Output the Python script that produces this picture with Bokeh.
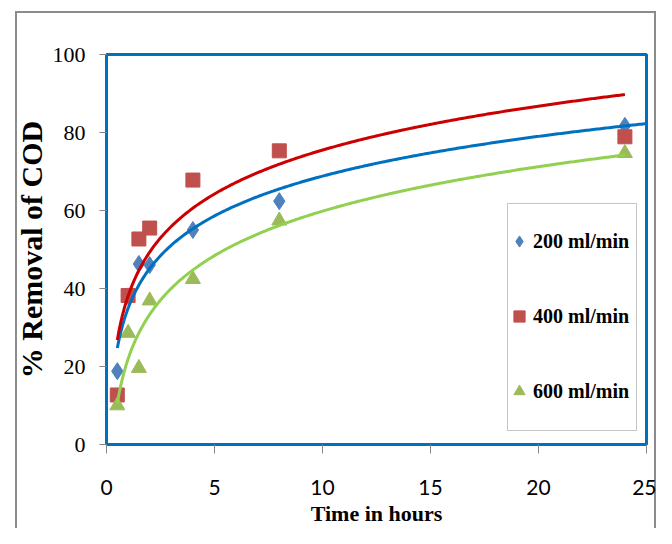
import numpy as np
from bokeh.plotting import figure
from bokeh.models import BoxAnnotation, Legend, LegendItem, Range1d, FixedTicker
from bokeh.embed import file_html
from bokeh.resources import INLINE

# ---- data ----
time_h = [0.5, 1, 1.5, 2, 4, 8, 24]
cod_200 = [18.8, 38.0, 46.3, 46.0, 55.0, 62.4, 81.7]
cod_400 = [12.7, 38.2, 52.7, 55.5, 67.8, 75.3, 78.9]
cod_600 = [10.0, 28.6, 19.6, 36.9, 42.4, 57.4, 74.7]
series_labels = ["200 ml/min", "400 ml/min", "600 ml/min"]
trend_end = [25, 24, 24]
x_ticks = [0, 5, 10, 15, 20, 25]
y_ticks = [0, 20, 40, 60, 80, 100]

marker_colors = ["#4F81BD", "#C0504D", "#9BBB59"]
line_colors = ["#0070C0", "#CC0000", "#92D050"]
markers = ["diamond", "square", "triangle"]
marker_sizes = [17, 14, 15]

p = figure(width=656, height=528, output_backend="svg", toolbar_location=None,
           x_range=Range1d(0, 25), y_range=Range1d(0, 100),
           min_border_left=106, min_border_right=10, min_border_top=54,
           min_border_bottom=83)
p.outline_line_color = "#0070C0"
p.outline_line_width = 3
p.xgrid.visible = False
p.ygrid.visible = False
p.background_fill_color = "white"
p.border_fill_color = None
g = "linear-gradient(#8c8c8c,#8c8c8c)"
p.styles = {"background": (f"{g} 15px 11px / 2px 600px no-repeat, "
                           f"{g} 15px 11px / 641px 2px no-repeat, "
                           f"{g} 654px 11px / 2px 600px no-repeat, #ffffff")}

for ax in (p.xaxis[0], p.yaxis[0]):
    ax.axis_line_color = None
    ax.major_tick_line_color = "#868686"
    ax.major_tick_line_width = 1
    ax.minor_tick_line_color = None
    ax.major_tick_in = 0
    ax.major_label_text_color = "black"
    ax.axis_label_text_color = "black"
    ax.axis_label_text_font = "Liberation Serif"
    ax.axis_label_text_font_style = "bold"

p.xaxis.ticker = FixedTicker(ticks=x_ticks)
p.xaxis.major_tick_out = 9
p.xaxis.major_label_text_font = "Lato"
p.xaxis.major_label_text_font_size = "21px"
p.xaxis.major_label_standoff = 26
p.xaxis.axis_label = "Time in hours"
p.xaxis.axis_label_text_font_size = "22px"
p.xaxis.axis_label_standoff = 3

p.yaxis.ticker = FixedTicker(ticks=y_ticks)
p.yaxis.major_tick_out = 7
p.yaxis.major_label_text_font = "Liberation Serif"
p.yaxis.major_label_text_font_size = "22px"
p.yaxis.major_label_standoff = 14
p.yaxis.axis_label = "% Removal of COD"
p.yaxis.axis_label_text_font_size = "30px"
p.yaxis.axis_label_standoff = 2

# legend box
p.add_layout(BoxAnnotation(left=507, right=636, top=203, bottom=430,
                           left_units="canvas", right_units="canvas",
                           top_units="canvas", bottom_units="canvas",
                           fill_color="white", fill_alpha=1,
                           line_color="#404040", line_width=1))

series = [cod_200, cod_400, cod_600]
items = []
t = np.array(time_h, dtype=float)
for vals, lab, mk, mc, ms in zip(series, series_labels, markers, marker_colors, marker_sizes):
    r = p.scatter(time_h, vals, marker=mk, size=ms, fill_color=mc, line_color=mc)
    items.append(LegendItem(label=lab, renderers=[r]))

for vals, lc, te in zip(series, line_colors, trend_end):
    a, b = np.polyfit(np.log(t), np.array(vals, dtype=float), 1)
    tt = np.linspace(t.min(), te, 300)
    p.line(tt, a * np.log(tt) + b, line_color=lc, line_width=3)

legend = Legend(items=items, location=(395, 35), padding=4, spacing=47,
                glyph_width=28, glyph_height=28, label_height=28,
                label_standoff=0, border_line_alpha=0, background_fill_alpha=0,
                label_text_font="Liberation Serif", label_text_font_size="20px",
                label_text_font_style="bold", label_text_color="black")
p.add_layout(legend)

open("out.html", "w").write(file_html(p, INLINE))
